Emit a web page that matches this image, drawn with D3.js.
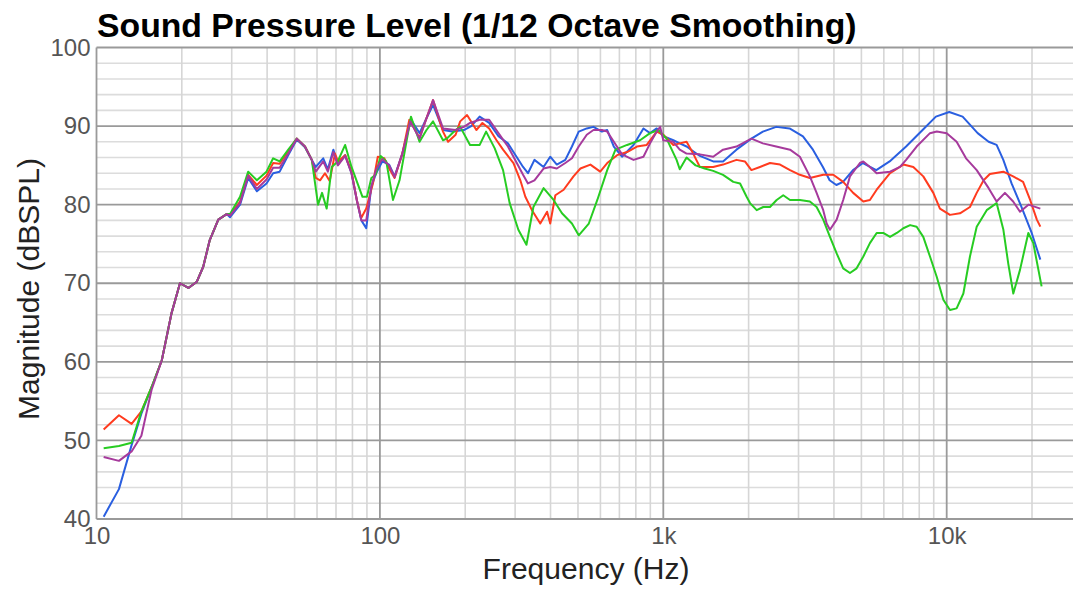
<!DOCTYPE html>
<html><head><meta charset="utf-8">
<script src="https://cdn.jsdelivr.net/npm/d3@7"></script>
<style>html,body{margin:0;padding:0;background:#fff;}svg{display:block;}</style>
</head><body>
<svg id="chart" width="1073" height="590"></svg>
<script>
const titleText = "Sound Pressure Level (1/12 Octave Smoothing)";
const xTitle = "Frequency (Hz)";
const yTitle = "Magnitude (dBSPL)";
const xTickValues = [10, 100, 1000, 10000];
const xTickLabels = ["10", "100", "1k", "10k"];
const yTickValues = [40, 50, 60, 70, 80, 90, 100];

const commonLow = [[15.66,56.8],[17.0,60.2],[18.4,66.2],[19.7,70.0],[21.1,69.4],[22.6,70.2],[23.8,72.1],[25.1,75.5],[26.9,78.1],[28.8,78.8]];

const blueData = [[10.6,40.3],[12.0,43.8],[13.3,49.4],[14.4,53.4]].concat(commonLow, [[29.6,78.4],[32.1,80.0],[34.3,83.4],[36.8,81.7],[39.8,82.7],[42.0,84.0],[44.3,84.2],[47.5,86.3],[50.9,88.3],[54.4,87.3],[57.5,85.7],[59.4,84.8],[63.1,85.9],[65.5,84.5],[68.5,87.0],[71.1,85.1],[75.4,86.3],[79.4,84.0],[83,80.5],[86,78.0],[89.5,77.0],[93.3,82.3],[97,84.0],[101.9,85.5],[107.8,85.1],[112.7,83.6],[120,86.5],[128.7,90.8],[138,89.1],[146,91.0],[154,92.7],[167,89.5],[180,89.3],[197.8,89.5],[210,90.0],[224.8,91.2],[243,90.4],[262,88.7],[283,87.8],[296,86.7],[320,84.8],[333,84.0],[351,85.7],[378,84.8],[399,86.1],[421,85.1],[451,85.7],[476,87.4],[503,89.3],[537,89.7],[567,89.9],[607,89.3],[634,89.5],[669,87.4],[715,86.1],[785,87.6],[851,89.7],[898,89.1],[948,89.7],[1000,88.7],[1085,88.2],[1143,87.8],[1208,87.4],[1346,86.2],[1500,85.5],[1625,85.5],[1812,87.0],[2046,88.4],[2246,89.3],[2503,89.9],[2789,89.7],[3110,88.7],[3373,87.0],[3657,84.8],[3863,83.1],[4080,82.5],[4308,82.9],[4671,84.4],[5064,85.3],[5643,84.4],[6290,85.5],[7190,87.4],[8220,89.5],[9160,91.2],[10210,91.8],[11380,91.2],[12860,89.1],[14060,88.0],[15000,87.6],[15840,85.7],[16940,82.7],[18370,79.7],[19950,76.4],[21400,73.0]]);

const redData = [[10.6,51.4],[12.0,53.2],[13.3,52.1],[14.4,53.7]].concat(commonLow, [[29.6,78.7],[32.1,80.4],[34.3,83.8],[36.8,82.5],[39.8,83.7],[42.0,85.3],[44.3,85.2],[47.5,86.8],[50.9,88.4],[54.4,87.4],[57.5,85.7],[59.4,83.4],[61.5,83.1],[64,84.0],[66.5,83.0],[69.4,86.5],[71.1,85.5],[75.4,86.3],[79.4,84.2],[83,80.5],[85.9,78.3],[89.5,79.5],[94.5,82.7],[98.3,86.1],[103.6,85.9],[107.8,84.6],[112.7,83.4],[120,86.5],[127,90.8],[138,88.5],[146,91.0],[154,93.3],[167,89.3],[174,88.0],[185,88.9],[192,90.6],[203,91.4],[219,89.5],[230,90.4],[243,89.7],[258,88.2],[272,87.0],[296,85.3],[313,83.1],[326,81.0],[344,79.3],[368,77.6],[389,79.1],[399,77.6],[416,81.2],[445,81.9],[482,83.6],[510,84.6],[553,85.1],[599,84.2],[634,85.3],[687,86.3],[745,86.7],[807,87.4],[874,87.6],[948,89.3],[1000,88.9],[1085,87.6],[1143,87.8],[1208,88.0],[1275,86.5],[1346,84.8],[1500,84.8],[1625,85.1],[1812,85.7],[1941,85.5],[2046,84.4],[2193,84.8],[2380,85.3],[2582,85.1],[2800,84.4],[3033,83.8],[3290,83.4],[3667,83.8],[3978,83.8],[4313,82.9],[4677,81.5],[5079,80.4],[5358,80.6],[5661,81.9],[6310,84.0],[7031,85.1],[7624,84.8],[8267,83.6],[8970,81.5],[9464,79.5],[10270,78.7],[11140,78.9],[12080,79.7],[12760,81.5],[13500,83.1],[14200,83.9],[15840,84.2],[17160,83.6],[18600,82.9],[19700,80.6],[20800,78.1],[21400,77.2]]);

const greenData = [[10.6,49.0],[12.0,49.3],[13.3,49.7],[14.4,53.7]].concat(commonLow, [[29.6,78.8],[32.1,81.0],[34.3,84.2],[36.8,83.1],[39.8,84.2],[42.0,85.9],[44.3,85.5],[47.5,87.0],[50.9,88.4],[54.4,87.4],[57.5,85.7],[60.5,80.0],[62.5,81.5],[64.9,79.5],[67.6,84.8],[71,85.5],[75.4,87.6],[79.4,84.8],[86.8,81.0],[90,81.0],[93.3,83.4],[96.6,83.8],[100.6,86.2],[105.3,85.5],[111.2,80.6],[117.3,83.1],[128.7,91.2],[138,88.0],[146,89.5],[154,90.6],[167,88.2],[172,88.4],[185,89.5],[192,89.9],[208,87.6],[225,87.6],[237,89.3],[254,87.2],[272,84.4],[287,80.2],[308,76.8],[329,74.9],[348,79.7],[378,82.1],[410,80.6],[439,78.9],[476,77.6],[503,76.1],[546,77.6],[585,80.6],[634,84.4],[678,87.0],[745,87.6],[828,88.2],[898,89.1],[961,89.5],[1027,88.4],[1114,85.7],[1143,84.5],[1208,86.0],[1300,85.0],[1400,84.6],[1500,84.3],[1625,83.8],[1766,82.9],[1866,82.7],[1968,81.0],[2023,80.2],[2136,79.3],[2254,79.7],[2379,79.7],[2512,80.6],[2650,81.2],[2800,80.6],[3033,80.6],[3290,80.4],[3475,79.7],[3667,78.1],[3873,75.9],[4090,73.8],[4313,71.9],[4557,71.3],[4810,71.9],[5079,73.4],[5358,75.1],[5661,76.4],[5970,76.4],[6310,75.9],[6668,76.4],[7031,77.0],[7430,77.4],[7834,77.2],[8267,75.9],[8730,73.4],[9226,70.8],[9730,67.9],[10270,66.6],[10840,66.8],[11450,68.7],[12080,73.4],[12760,77.2],[13840,79.3],[15000,80.2],[15850,76.8],[16490,72.5],[17180,68.7],[18140,71.7],[19410,76.4],[20210,75.1],[21620,69.6]]);

const purpleData = [[10.6,47.9],[12.0,47.4],[13.3,48.6],[14.4,50.6],[15.66,56.5]].concat(commonLow.slice(1), [[29.6,78.6],[32.1,80.2],[34.3,83.7],[36.8,82.0],[39.8,83.2],[42.0,84.7],[44.3,84.7],[47.5,86.5],[50.9,88.4],[54.4,87.4],[57.5,85.7],[59.4,84.2],[63.1,85.5],[65.5,84.2],[68.5,86.7],[71.1,85.0],[75.4,86.2],[79.4,84.0],[83,80.5],[86,78.0],[89.5,78.0],[93.3,82.3],[97,84.5],[101.9,85.8],[107.8,85.0],[112.7,83.5],[120,86.5],[128,90.6],[138,88.4],[146,91.0],[154,93.3],[167,89.7],[185,89.5],[197.8,89.9],[208,90.4],[224.8,90.8],[243,90.8],[262,89.1],[283,87.4],[296,86.1],[320,83.8],[333,82.7],[351,83.1],[378,84.6],[399,84.8],[421,84.6],[451,85.3],[476,85.9],[503,87.4],[537,88.9],[567,89.5],[607,89.5],[634,89.3],[669,88.0],[715,86.4],[785,85.7],[851,86.1],[898,87.8],[948,89.3],[975,89.9],[1000,88.2],[1085,88.0],[1143,87.0],[1208,86.5],[1346,86.4],[1500,86.1],[1625,87.0],[1812,87.4],[2046,88.4],[2246,87.8],[2503,87.4],[2800,87.0],[3033,86.1],[3290,83.6],[3475,81.5],[3667,79.3],[3770,77.6],[3873,76.8],[4090,78.1],[4313,80.6],[4557,83.6],[4940,85.3],[5079,85.5],[5358,84.8],[5661,84.0],[6310,84.2],[6842,84.8],[7190,85.7],[7834,87.4],[8730,89.1],[9226,89.3],[10000,89.1],[10840,88.0],[11700,85.9],[12760,84.4],[14060,82.1],[15000,80.4],[16050,81.5],[17160,80.4],[18140,79.1],[19430,80.0],[21400,79.5]]);

const seriesNames = ["blue", "red", "green", "purple"];
const seriesColors = ["#2a5fe0", "#ff3b1f", "#27cc22", "#a63a9c"];
const seriesData = [blueData, redData, greenData, purpleData];

const svg = d3.select("#chart");
const plotL = 96.5, plotT = 47.5, plotB = 519;
const decadePx = 283.4;
const fMax = 30000;
const plotR = plotL + decadePx * Math.log10(fMax / 10);

const x = d3.scaleLog().domain([10, fMax]).range([plotL, plotR]);
const y = d3.scaleLinear().domain([40, 100]).range([plotB, plotT]);

svg.append("defs").append("clipPath").attr("id", "clip")
  .append("rect").attr("x", plotL).attr("y", plotT).attr("width", plotR - plotL).attr("height", plotB - plotT);

const grid = svg.append("g");
const minorY = d3.range(42, 100, 2).filter(v => v % 10 !== 0);
grid.selectAll(".hmin").data(minorY).enter().append("line")
  .attr("x1", plotL).attr("x2", 1073).attr("y1", d => y(d)).attr("y2", d => y(d))
  .attr("stroke", "#dcdcdc").attr("stroke-width", 1.6);
const minorX = [];
[10, 100, 1000, 10000].forEach(dec => { for (let k = 2; k <= 9; k++) { if (dec * k < fMax) minorX.push(dec * k); } });
grid.selectAll(".vmin").data(minorX).enter().append("line")
  .attr("x1", d => x(d)).attr("x2", d => x(d)).attr("y1", plotT).attr("y2", plotB)
  .attr("stroke", "#d6d6d6").attr("stroke-width", 1.6);
grid.selectAll(".hmaj").data(yTickValues).enter().append("line")
  .attr("x1", plotL).attr("x2", 1073).attr("y1", d => y(d)).attr("y2", d => y(d))
  .attr("stroke", "#9a9a9a").attr("stroke-width", 1.8);
grid.selectAll(".vmaj").data(xTickValues).enter().append("line")
  .attr("x1", d => x(d)).attr("x2", d => x(d)).attr("y1", plotT).attr("y2", plotB)
  .attr("stroke", "#9a9a9a").attr("stroke-width", 1.8);

const yAxis = d3.axisLeft(y).tickValues(yTickValues).tickSize(0).tickPadding(6).tickFormat(d3.format("d"));
const yg = svg.append("g").attr("transform", `translate(${plotL},0)`).call(yAxis);
yg.select(".domain").remove();
yg.selectAll("text").attr("font-family", "Liberation Sans, Arial, sans-serif").attr("font-size", 24).attr("fill", "#555").attr("dy", "0.32em");

const xAxis = d3.axisBottom(x).tickValues(xTickValues).tickSize(0).tickPadding(8).tickFormat((d, i) => xTickLabels[i]);
const xg = svg.append("g").attr("transform", `translate(0,${plotB})`).call(xAxis);
xg.select(".domain").remove();
xg.selectAll("text").attr("font-family", "Liberation Sans, Arial, sans-serif").attr("font-size", 24).attr("fill", "#555").attr("dy", "0.71em");

const line = d3.line().x(d => x(d[0])).y(d => y(d[1]));
const plot = svg.append("g").attr("clip-path", "url(#clip)");
seriesData.forEach((data, i) => {
  plot.append("path").datum(data).attr("d", line)
    .attr("fill", "none").attr("stroke", seriesColors[i]).attr("stroke-width", 2)
    .attr("stroke-linejoin", "round").attr("class", seriesNames[i]);
});

function fitText(sel, target) {
  const w = sel.node().getComputedTextLength();
  const fs = parseFloat(sel.attr("font-size"));
  sel.attr("font-size", fs * target / w);
}

const t = svg.append("text").attr("x", 97).attr("y", 37)
  .attr("font-family", "Liberation Sans, Arial, sans-serif").attr("font-weight", "bold")
  .attr("font-size", 28).attr("fill", "#000").text(titleText);
fitText(t, 760);

const xt = svg.append("text").attr("x", 586).attr("y", 579).attr("text-anchor", "middle")
  .attr("font-family", "Liberation Sans, Arial, sans-serif").attr("font-size", 24).attr("fill", "#222").text(xTitle);
fitText(xt, 207);

const yt = svg.append("text").attr("transform", "translate(39,289) rotate(-90)").attr("text-anchor", "middle")
  .attr("font-family", "Liberation Sans, Arial, sans-serif").attr("font-size", 24).attr("fill", "#222").text(yTitle);
fitText(yt, 262);
</script>
</body></html>
